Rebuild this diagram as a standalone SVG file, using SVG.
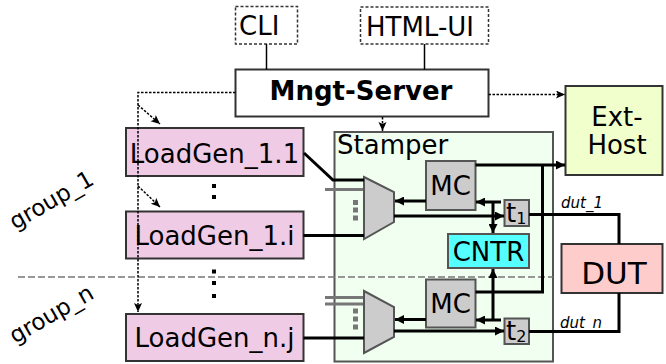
<svg xmlns="http://www.w3.org/2000/svg" width="666" height="364" viewBox="0 0 666 364">
<defs>
<marker id="ah" markerUnits="userSpaceOnUse" markerWidth="10" markerHeight="9" refX="9" refY="4.5" orient="auto"><path d="M0,0 L9,4.5 L0,9 z" fill="#000"/></marker>
<marker id="ahs" markerUnits="userSpaceOnUse" markerWidth="10" markerHeight="9" refX="9" refY="4" orient="auto"><path d="M0,0 L9,4 L0,8 L2,4 z" fill="#000"/></marker>
<style>
text{font-family:"DejaVu Sans","Liberation Sans",sans-serif;fill:#000}
.lbl{font-size:26px}
.box{stroke:#333;stroke-width:2}
.dash{fill:#fff;stroke:#333;stroke-width:1.5;stroke-dasharray:3,2}
.lg{fill:#f0cbe5}
.gray{fill:#cccccc;stroke:#555;stroke-width:2}
.wire{fill:none;stroke:#000;stroke-width:3}
.thin{fill:none;stroke:#000;stroke-width:1.5}
.dot{fill:none;stroke:#000;stroke-width:1.5;stroke-dasharray:2.5,1.5}
.gw{stroke:#777;stroke-width:3}
.gd{fill:#777}
.bd{fill:#000}
</style>
</defs>

<g id="stamper">
<rect x="334.5" y="132" width="218.5" height="229.5" fill="#f0fff0" stroke="#555" stroke-width="2"/>
<text class="lbl" x="337" y="154">Stamper</text>
</g>

<g id="separator">
<line x1="18" y1="277" x2="553" y2="277" stroke="#777" stroke-width="1.5" stroke-dasharray="7,3"/>
</g>

<g id="cli">
<rect class="dash" x="235.5" y="6.5" width="62" height="37.5"/>
<text class="lbl" x="239" y="35">CLI</text>
</g>
<g id="html-ui">
<rect class="dash" x="360.5" y="7" width="128" height="37"/>
<text class="lbl" x="366" y="36">HTML-UI</text>
</g>
<g id="mngt-server">
<rect x="235.5" y="69.5" width="253" height="47" fill="#fff" class="box"/>
<text x="361" y="100" font-size="26" font-weight="bold" text-anchor="middle">Mngt-Server</text>
</g>
<g id="ext-host">
<rect x="565.5" y="86" width="97" height="89" fill="#f0ffcc" class="box"/>
<text class="lbl" x="617" y="126" text-anchor="middle">Ext-</text>
<text class="lbl" x="617" y="154" text-anchor="middle">Host</text>
</g>

<g id="loadgen-1-1">
<rect class="lg box" x="126" y="128" width="177.5" height="48"/>
<text class="lbl" x="214.5" y="162.5" text-anchor="middle">LoadGen_1.1</text>
</g>
<g id="loadgen-1-i">
<rect class="lg box" x="126" y="211.5" width="177.5" height="47"/>
<text class="lbl" x="214.5" y="245" text-anchor="middle">LoadGen_1.i</text>
</g>
<g id="loadgen-n-j">
<rect class="lg box" x="126" y="314" width="177.5" height="47"/>
<text class="lbl" x="214.5" y="347" text-anchor="middle">LoadGen_n.j</text>
</g>
<g id="ellipsis">
<rect class="bd" x="212" y="184" width="4" height="4"/>
<rect class="bd" x="212" y="195" width="4" height="4"/>
<rect class="bd" x="212" y="269.5" width="4" height="4"/>
<rect class="bd" x="212" y="281" width="4" height="4"/>
<rect class="bd" x="212" y="294" width="4" height="4"/>
</g>

<g id="group-labels">
<text x="15" y="230" font-size="23" transform="rotate(-30 15 230)">group_1</text>
<text x="15" y="344" font-size="23" transform="rotate(-30 15 344)">group_n</text>
</g>

<g id="mux-1">
<line class="gw" x1="325" y1="189.5" x2="364" y2="189.5"/>
<rect class="gd" x="353" y="200" width="5" height="5"/>
<rect class="gd" x="353" y="207.5" width="5" height="5"/>
<rect class="gd" x="353" y="215.5" width="5" height="5"/>
<polygon class="gray" points="364,177 394,192 394,222 364,239"/>
</g>
<g id="mux-2">
<line class="gw" x1="325" y1="297.5" x2="364" y2="297.5"/>
<line class="gw" x1="325" y1="304" x2="364" y2="304"/>
<rect class="gd" x="353" y="308.5" width="5" height="5"/>
<rect class="gd" x="353" y="316.5" width="5" height="5"/>
<rect class="gd" x="353" y="324.5" width="5" height="5"/>
<polygon class="gray" points="364,291 394,307 394,337 364,353"/>
</g>

<g id="mc-1">
<rect class="gray" x="426" y="161" width="49.5" height="49"/>
<text class="lbl" x="450.5" y="195" text-anchor="middle">MC</text>
</g>
<g id="mc-2">
<rect class="gray" x="426" y="279.5" width="49.5" height="48"/>
<text class="lbl" x="450.5" y="313" text-anchor="middle">MC</text>
</g>
<g id="t1">
<rect class="gray" x="504.5" y="200" width="24.5" height="26"/>
<text x="506" y="222" font-size="26">t<tspan font-size="16" dy="2">1</tspan></text>
</g>
<g id="t2">
<rect class="gray" x="504.5" y="318.5" width="24.5" height="25.5"/>
<text x="506" y="340" font-size="26">t<tspan font-size="16" dy="2">2</tspan></text>
</g>
<g id="cntr">
<rect x="448" y="234" width="81" height="34" fill="#55ffff" stroke="#555" stroke-width="2"/>
<text class="lbl" x="488.5" y="260.5" text-anchor="middle">CNTR</text>
</g>
<g id="dut">
<rect x="561.5" y="244" width="101" height="49" fill="#ffcccc" class="box"/>
<text x="614" y="284" font-size="31" text-anchor="middle">DUT</text>
</g>

<g id="connectors">
<line class="thin" x1="266.5" y1="44" x2="266.5" y2="69.5"/>
<line class="thin" x1="424.5" y1="44" x2="424.5" y2="69.5"/>
<polyline class="dot" points="235.5,92.5 138,92.5 138,312" marker-end="url(#ahs)"/>
<line class="dot" x1="138" y1="105" x2="160" y2="124" marker-end="url(#ahs)"/>
<line class="dot" x1="138" y1="186" x2="160" y2="207" marker-end="url(#ahs)"/>
<line class="dot" x1="382.5" y1="117" x2="382.5" y2="131" marker-end="url(#ahs)"/>
<line class="dot" x1="488.5" y1="94.5" x2="565" y2="94.5" marker-end="url(#ahs)"/>

<polyline class="wire" points="304,153 333,180 364,180"/>
<line class="wire" x1="303.5" y1="235.5" x2="364" y2="235.5"/>
<line class="wire" x1="303.5" y1="338" x2="364" y2="338"/>

<line class="wire" x1="475.5" y1="165" x2="565" y2="165" marker-end="url(#ah)"/>
<polyline class="wire" points="475.5,292 542.5,292 542.5,165"/>

<line class="wire" x1="426" y1="201" x2="395" y2="201" marker-end="url(#ah)"/>
<line class="wire" x1="394" y1="216" x2="504" y2="216" marker-end="url(#ah)"/>
<line class="wire" x1="501" y1="202" x2="476" y2="202" marker-end="url(#ah)"/>
<line class="wire" x1="493" y1="202" x2="493" y2="233" marker-end="url(#ah)"/>

<line class="wire" x1="426" y1="319.5" x2="395" y2="319.5" marker-end="url(#ah)"/>
<line class="wire" x1="394" y1="331" x2="504" y2="331" marker-end="url(#ah)"/>
<line class="wire" x1="501" y1="320" x2="476" y2="320" marker-end="url(#ah)"/>
<line class="wire" x1="493" y1="320" x2="493" y2="269" marker-end="url(#ah)"/>

<polyline class="wire" points="529,214.5 619,214.5 619,244"/>
<polyline class="wire" points="529,331.5 619,331.5 619,293"/>
<text x="561" y="208" font-size="15" font-style="italic">dut_1</text>
<text x="560" y="327.5" font-size="15" font-style="italic">dut_n</text>
</g>
</svg>
